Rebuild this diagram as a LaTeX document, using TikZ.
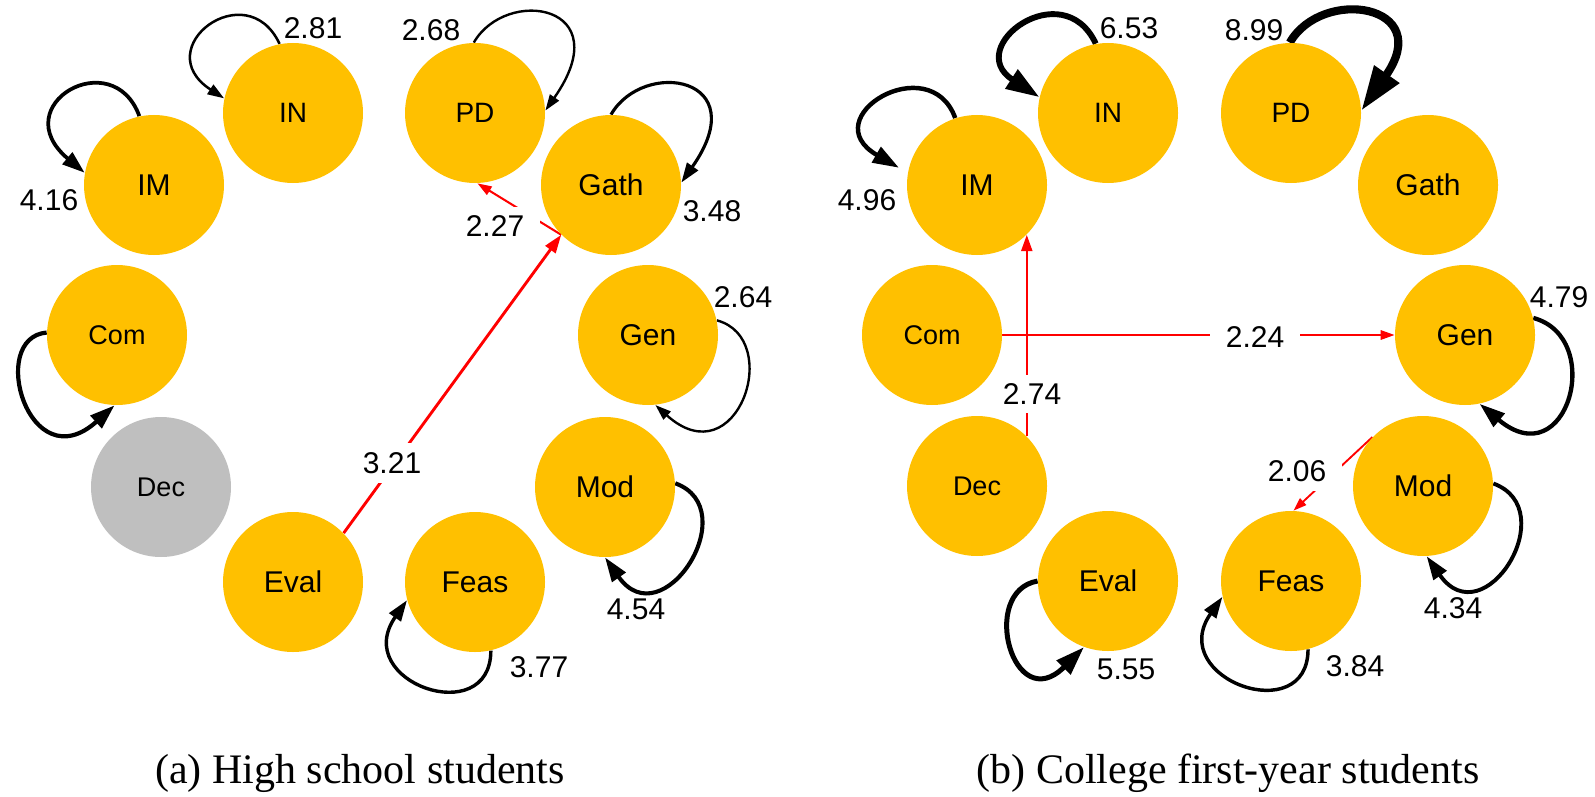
\documentclass[tikz,border=0pt]{standalone}
\usepackage{fontspec}
\setmainfont{Liberation Serif}
\setsansfont{Liberation Sans}
\usetikzlibrary{arrows.meta}
\pgfdeclarelayer{edges}
\pgfdeclarelayer{elabels}
\pgfsetlayers{edges,elabels,main}
\definecolor{nodeyellow}{HTML}{FFC000}
\definecolor{nodegrey}{HTML}{BFBFBF}
\definecolor{edgered}{HTML}{FF0000}
\begin{document}
\begin{tikzpicture}[x=0.5pt,y=0.5pt,
  stnode/.style={circle, fill=nodeyellow, minimum size=70pt, inner sep=0pt, font=\sffamily\fontsize{15}{17}\selectfont},
  midnode/.style={stnode, font=\sffamily\fontsize{14}{16}\selectfont},
  smallnode/.style={stnode, font=\sffamily\fontsize{13.5}{15}\selectfont},
  greynode/.style={fill=nodegrey},
  numlab/.style={font=\sffamily\fontsize{15}{17}\selectfont, inner sep=0pt},
  rednumlab/.style={numlab, fill=white, inner xsep=8pt, inner ysep=4.5pt},
  selfloop/.style={draw=black, line width=#1, -{Triangle[length=2pt 5, width=1.5pt 3.2]}},
  redarrow/.style={draw=edgered, line width=#1, -{Triangle[length=2pt 5, width=1.5pt 3.2]}},
  capt/.style={font=\fontsize{21}{25}\selectfont, inner sep=0pt}
]
\useasboundingbox (0,0) rectangle (1595,-797);

% ---------- panel (a) nodes ----------
\node[midnode] (aIN) at (293,-113) {IN};
\node[midnode] (aPD) at (475,-113) {PD};
\node[stnode] (aIM) at (154,-185) {IM};
\node[stnode] (aGath) at (611,-185) {Gath};
\node[smallnode] (aCom) at (117,-335) {Com};
\node[stnode] (aGen) at (648,-335) {Gen};
\node[smallnode, greynode] (aDec) at (161,-487) {Dec};
\node[stnode] (aMod) at (605,-487) {Mod};
\node[stnode] (aEval) at (293,-582) {Eval};
\node[stnode] (aFeas) at (475,-582) {Feas};

% ---------- panel (b) nodes ----------
\node[midnode] (bIN) at (1108,-113) {IN};
\node[midnode] (bPD) at (1291,-113) {PD};
\node[stnode] (bIM) at (977,-185) {IM};
\node[stnode] (bGath) at (1428,-185) {Gath};
\node[smallnode] (bCom) at (932,-335) {Com};
\node[stnode] (bGen) at (1465,-335) {Gen};
\node[smallnode] (bDec) at (977,-486) {Dec};
\node[stnode] (bMod) at (1423,-486) {Mod};
\node[stnode] (bEval) at (1108,-581) {Eval};
\node[stnode] (bFeas) at (1291,-581) {Feas};

\begin{pgfonlayer}{edges}
% panel (a) self loops
\draw[selfloop=1.26pt] (aIN.101) .. controls +(115:78) and +(147:92) .. (aIN.168);
\draw[selfloop=1.2pt] (aPD.91) .. controls +(60:65) and +(55:130) .. (aPD.2);
\draw[selfloop=1.87pt] (aIM.102) .. controls +(110:78) and +(140:105) .. (aIM.170);
\draw[selfloop=1.57pt] (aGath.90) .. controls +(60:65) and +(55:130) .. (aGath.2);
\draw[selfloop=2.1pt] (aCom.178) .. controls +(185:60) and +(222:115) .. (aCom.268);
\draw[selfloop=1.19pt] (aGen.12) .. controls +(-15:70) and +(318:110) .. (aGen.276);
\draw[selfloop=2.04pt] (aMod.3) .. controls +(-20:75) and +(305:100) .. (aMod.270);
\draw[selfloop=1.7pt] (aFeas.283) .. controls +(270:80) and +(235:100) .. (aFeas.195);
% panel (a) transitions
\draw[redarrow=1.44pt] (aEval.44) -- (aGath.225);
\draw[redarrow=1.02pt] (aGath.225) -- (aPD.272);

% panel (b) self loops
\draw[selfloop=2.94pt] (bIN.100) .. controls +(115:78) and +(147:92) .. (bIN.167);
\draw[selfloop=4.05pt] (bPD.91) .. controls +(60:65) and +(55:130) .. (bPD.2);
\draw[selfloop=2.23pt, shorten >=5pt] (bIM.108) .. controls +(110:75) and +(150:110) .. (bIM.170);
\draw[selfloop=2.16pt] (bGen.14) .. controls +(-15:75) and +(320:115) .. (bGen.282);
\draw[selfloop=1.95pt] (bMod.2) .. controls +(-20:75) and +(305:100) .. (bMod.273);
\draw[selfloop=1.73pt] (bFeas.284) .. controls +(270:80) and +(235:100) .. (bFeas.193);
\draw[selfloop=2.5pt] (bEval.180) .. controls +(190:60) and +(225:100) .. (bEval.250);
% panel (b) transitions
\draw[redarrow=1.0pt] (bCom.east) -- (bGen.west);
\draw[redarrow=1.23pt] (bDec.45) -- (bIM.-45);
\draw[redarrow=0.93pt] (bMod.136) -- (bFeas.88);
\end{pgfonlayer}

\begin{pgfonlayer}{elabels}
\node[rednumlab] (e321) at (392,-463) {3.21};
\node[rednumlab] (e227) at (495,-226) {2.27};
\node[rednumlab] (e224) at (1255,-337) {2.24};
\node[rednumlab] (e274) at (1032,-394) {2.74};
\node[rednumlab] (e206) at (1297,-471) {2.06};
\end{pgfonlayer}

% loop labels panel (a)
\node[numlab] (l281) at (313,-28) {2.81};
\node[numlab] (l268) at (431,-30) {2.68};
\node[numlab] (l416) at (49,-200) {4.16};
\node[numlab] (l348) at (712,-211) {3.48};
\node[numlab] (l264) at (743,-297) {2.64};
\node[numlab] (l454) at (636,-609) {4.54};
\node[numlab] (l377) at (539,-667) {3.77};
% loop labels panel (b)
\node[numlab] (l653) at (1129,-28) {6.53};
\node[numlab] (l899) at (1254,-30) {8.99};
\node[numlab] (l496) at (867,-200) {4.96};
\node[numlab] (l479) at (1559,-297) {4.79};
\node[numlab] (l434) at (1453,-608) {4.34};
\node[numlab] (l384) at (1355,-666) {3.84};
\node[numlab] (l555) at (1126,-669) {5.55};

% captions
\node[capt] (capa) at (360,-773) {(a) High school students};
\node[capt] (capb) at (1228,-773) {(b) College first-year students};
\end{tikzpicture}
\end{document}
